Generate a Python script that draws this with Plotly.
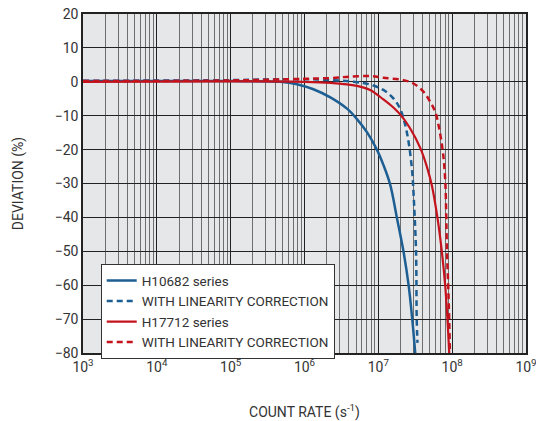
import plotly.graph_objects as go

# H10682 series (solid blue)
h10682_x = [1e3, 1e5, 4.7e5, 7.9e5, 1.32e6, 2.24e6, 3.8e6, 5.13e6, 7.08e6, 9.55e6, 1.17e7, 1.45e7, 1.78e7, 2.19e7, 2.57e7, 2.88e7, 3.16e7]
h10682_y = [0.2, 0.2, 0.0, -0.7, -2.2, -4.6, -8.0, -11.0, -15.0, -20.0, -24.5, -30.4, -40.0, -50.0, -60.0, -70.0, -80.0]

# H10682 with linearity correction (dashed blue)
h10682c_x = [1e3, 1e5, 3.16e5, 1.48e6, 4.57e6, 7.74e6, 1.17e7, 1.60e7, 1.97e7, 2.31e7, 2.56e7, 2.75e7, 2.90e7, 2.99e7, 3.24e7, 3.31e7, 3.39e7]
h10682c_y = [0.3, 0.5, 0.7, 0.7, 0.0, -0.8, -2.4, -4.9, -7.9, -12.7, -17.6, -22.5, -27.5, -32.4, -50.0, -70.0, -77.0]

# H17712 series (solid red)
h17712_x = [1e3, 1e6, 2.24e6, 5.13e6, 7.74e6, 1.17e7, 1.60e7, 2.08e7, 2.69e7, 3.68e7, 4.54e7, 5.31e7, 6.31e7, 7.24e7, 8.04e7, 8.63e7, 9.12e7]
h17712_y = [0.0, 0.0, -0.3, -1.2, -2.4, -5.2, -7.6, -10.2, -13.7, -19.4, -25.0, -30.6, -40.0, -50.0, -60.0, -70.0, -80.0]

# H17712 with linearity correction (dashed red)
h17712c_x = [1e3, 1e5, 1e6, 2.24e6, 3.98e6, 7.74e6, 1.17e7, 2.19e7, 2.99e7, 4.08e7, 5.04e7, 5.89e7, 6.52e7, 7.03e7, 7.48e7, 7.80e7, 8.11e7, 8.32e7, 8.51e7, 8.83e7, 9.12e7, 9.33e7]
h17712c_y = [0.2, 0.4, 0.9, 1.1, 1.5, 1.7, 1.2, 0.5, -0.5, -2.9, -5.9, -8.8, -12.7, -16.6, -20.6, -24.5, -30.4, -40.0, -50.0, -60.0, -70.0, -80.0]

x_tick_vals = [1e3, 1e4, 1e5, 1e6, 1e7, 1e8, 1e9]
x_tick_text = ["10<sup>3</sup>", "10<sup>4</sup>", "10<sup>5</sup>", "10<sup>6</sup>",
               "10<sup>7</sup>", "10<sup>8</sup>", "10<sup>9</sup>"]
x_minor_vals = [m * 10 ** e for e in range(3, 9) for m in range(2, 10)]
y_tick_vals = [20, 10, 0, -10, -20, -30, -40, -50, -60, -70, -80]

BLUE = "#1d5e93"
RED = "#c4131d"
FONT = "Roboto"
SMOOTH = 1.0

fig = go.Figure()
fig.add_trace(go.Scatter(x=h10682_x, y=h10682_y, mode="lines", name="H10682 series",
                         line=dict(color=BLUE, width=2.5, shape="spline", smoothing=SMOOTH)))
fig.add_trace(go.Scatter(x=h10682c_x, y=h10682c_y, mode="lines", name="WITH LINEARITY CORRECTION",
                         line=dict(color=BLUE, width=2.5, dash="6px,4px", shape="spline", smoothing=SMOOTH)))
fig.add_trace(go.Scatter(x=h17712_x, y=h17712_y, mode="lines", name="H17712 series",
                         line=dict(color=RED, width=2.2, shape="spline", smoothing=SMOOTH)))
fig.add_trace(go.Scatter(x=h17712c_x, y=h17712c_y, mode="lines", name="WITH LINEARITY CORRECTION",
                         line=dict(color=RED, width=2.5, dash="6px,4px", shape="spline", smoothing=SMOOTH)))

fig.update_layout(
    width=536, height=421,
    margin=dict(l=83, r=10, t=14, b=68, autoexpand=False),
    paper_bgcolor="white",
    plot_bgcolor="#e6e7e9",
    font=dict(family=FONT, size=13, color="#333333"),
    showlegend=True,
    legend=dict(x=0.04, y=0.262, xanchor="left", yanchor="top",
                bgcolor="white", bordercolor="#333333", borderwidth=1,
                font=dict(family=FONT, size=13.5, color="#333333"),
                tracegroupgap=0, itemwidth=30, traceorder="normal"),
)
fig.update_xaxes(
    type="log", range=[3, 9], automargin=False, ticklabeloverflow="allow",
    tickmode="array", tickvals=x_tick_vals, ticktext=x_tick_text,
    showgrid=True, gridcolor="#222222", gridwidth=1,
    minor=dict(tickmode="array", tickvals=x_minor_vals, showgrid=True,
               gridcolor="#6e6e6e", gridwidth=1.3, ticks=""),
    showline=True, linecolor="#222222", linewidth=1.5, mirror=True,
    ticks="", zeroline=False,
    tickfont=dict(size=14, color="#333333"),
    title=dict(text="COUNT RATE (s<sup>-1</sup>)", font=dict(size=14, color="#333333"), standoff=34),
)
fig.update_yaxes(
    range=[-80, 20], automargin=False,
    tickmode="array", tickvals=y_tick_vals,
    showgrid=True, gridcolor="#222222", gridwidth=1,
    showline=True, linecolor="#222222", linewidth=1.5, mirror=True,
    ticks="", zeroline=False,
    tickfont=dict(size=14, color="#333333"),
    title=dict(text="DEVIATION (%)", font=dict(size=14, color="#333333"), standoff=28),
)

fig.write_html("out.html")
